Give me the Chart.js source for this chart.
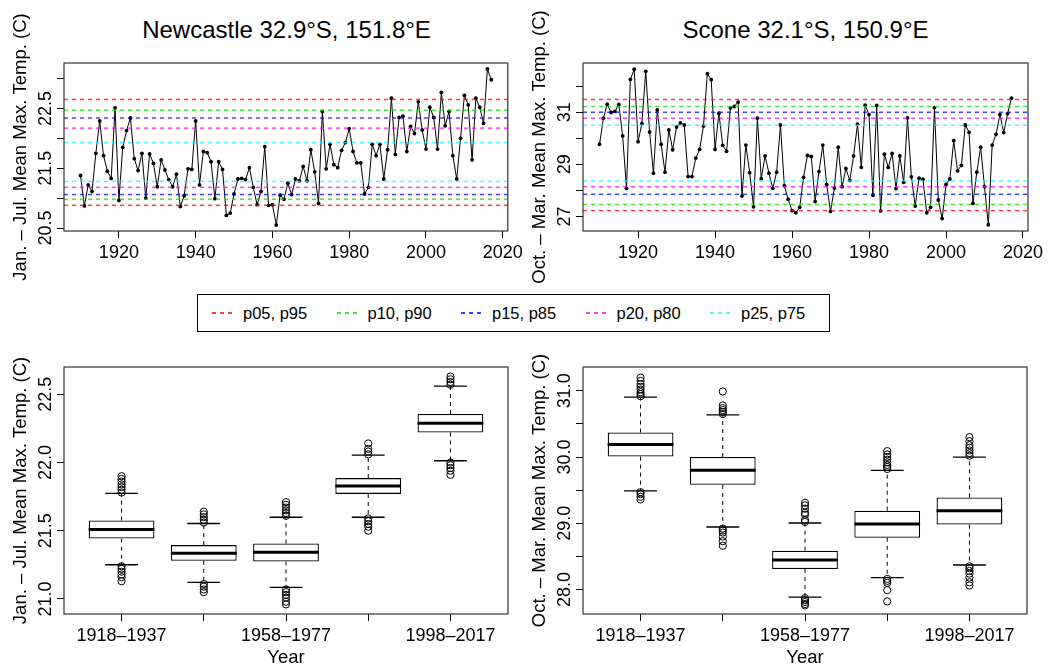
<!DOCTYPE html>
<html>
<head>
<meta charset="utf-8">
<script src="https://cdn.jsdelivr.net/npm/chart.js@4.4.1/dist/chart.umd.min.js"></script>
<style>
  body { margin: 0; background: #fff; width: 1055px; height: 670px; position: relative; overflow: hidden;
         font-family: "Liberation Sans", Arial, sans-serif; color: #000; }
  canvas { position: absolute; }
  .title { position: absolute; top: 16px; font-size: 24px; line-height: 28px; text-align: center; }
  #legend { position: absolute; left: 197px; top: 294px; width: 633px; height: 38px; border: 1px solid #000; box-sizing: border-box; }
  .dash { position: absolute; top: 17px; width: 22px; height: 1.5px; }
  .ltxt { position: absolute; top: 0; line-height: 36px; font-size: 16.5px; white-space: nowrap; }
</style>
</head>
<body>
<div class="title" style="left:64px;width:445px">Newcastle 32.9°S, 151.8°E</div>
<div class="title" style="left:583px;width:445px">Scone 32.1°S, 150.9°E</div>
<canvas id="newcastle_series" width="527" height="290" style="left:0;top:0"></canvas>
<canvas id="scone_series" width="528" height="290" style="left:527px;top:0"></canvas>
<div id="legend"></div>
<canvas id="newcastle_box" width="527" height="330" style="left:0;top:340px"></canvas>
<canvas id="scone_box" width="528" height="330" style="left:527px;top:340px"></canvas>

<script>
// ANNUAL SERIES, 1910 - 2017
const firstYear = 1910;
const newcastle = [21.38, 20.87, 21.22, 21.11, 21.75, 22.29, 21.71, 21.45, 21.33, 22.51,
  20.96, 21.85, 22.13, 22.34, 21.66, 21.46, 21.75, 21.00, 21.74, 21.58,
  21.19, 21.64, 21.47, 21.31, 21.19, 21.40, 20.86, 21.04, 21.49, 21.48,
  22.29, 21.22, 21.78, 21.76, 21.61, 20.99, 21.61, 21.48, 20.71, 20.75,
  21.07, 21.32, 21.33, 21.31, 21.51, 21.18, 20.89, 21.11, 21.86, 20.88,
  20.89, 20.55, 21.05, 20.98, 21.25, 21.06, 21.32, 21.29, 21.53, 21.29,
  21.81, 21.44, 20.91, 22.45, 21.49, 21.90, 21.56, 21.51, 21.80, 21.93,
  22.16, 21.78, 21.59, 21.59, 21.07, 21.18, 21.90, 21.71, 21.90, 21.32,
  21.81, 22.67, 21.73, 22.35, 22.37, 21.78, 22.20, 22.08, 22.61, 22.14,
  21.82, 22.52, 22.35, 21.82, 22.77, 22.21, 22.45, 21.71, 21.32, 22.00,
  22.72, 22.56, 21.64, 22.67, 22.52, 22.25, 23.16, 22.98];
const scone = [29.77, 30.77, 31.31, 30.99, 31.03, 31.30, 30.09, 28.08, 32.26, 32.65,
  29.87, 30.56, 32.57, 30.24, 28.66, 31.09, 29.77, 28.70, 30.32, 29.56,
  30.43, 30.59, 30.51, 28.53, 28.53, 29.24, 29.57, 30.47, 32.48, 32.25,
  29.57, 30.96, 29.73, 29.50, 31.17, 31.22, 31.39, 27.78, 29.74, 28.68,
  27.37, 30.77, 28.45, 29.32, 28.66, 28.08, 28.70, 30.51, 28.18, 27.66,
  27.22, 27.14, 27.35, 28.50, 29.34, 29.30, 27.57, 28.72, 29.74, 28.23,
  27.19, 28.09, 29.66, 28.14, 28.84, 28.38, 29.32, 30.54, 28.88, 31.27,
  30.91, 27.81, 31.26, 27.21, 29.39, 28.88, 29.42, 28.07, 29.32, 28.31,
  30.78, 28.52, 27.40, 28.47, 28.43, 27.14, 27.35, 31.18, 27.63, 26.92,
  28.23, 28.44, 29.91, 28.75, 28.96, 30.51, 30.23, 27.50, 28.70, 29.66,
  28.14, 26.68, 29.74, 30.15, 30.91, 30.22, 30.95, 31.54];
const years = newcastle.map((v, i) => firstYear + i);

// PERCENTILE LEVELS (low / high pair for each legend entry)
const pctLabels = ['p05, p95', 'p10, p90', 'p15, p85', 'p20, p80', 'p25, p75'];
const newcastleLow  = [20.88, 20.98, 21.06, 21.18, 21.28];
const newcastleHigh = [22.65, 22.47, 22.34, 22.17, 21.93];
const sconeLow  = [27.22, 27.46, 27.85, 28.14, 28.36];
const sconeHigh = [31.49, 31.22, 31.00, 30.77, 30.50];

// TICKS
const yearTicks = [1920, 1940, 1960, 1980, 2000, 2020];
const yearTickLabels = ['1920', '1940', '1960', '1980', '2000', '2020'];
const newcastleTicks = [20.5, 21, 21.5, 22, 22.5, 23];
const newcastleTickLabels = ['20.5', '', '21.5', '', '22.5', ''];
const sconeTicks = [27, 28, 29, 30, 31, 32];
const sconeTickLabels = ['27', '', '29', '', '31', ''];

// 20-YEAR PERIOD BOXPLOTS
const periods = ['1918–1937', '1938–1957', '1958–1977', '1978–1997', '1998–2017'];
const periodPos = [1, 2, 3, 4, 5];
const ncLo  = [21.251, 21.122, 21.085, 21.599, 22.013];
const ncQ1  = [21.443, 21.280, 21.275, 21.770, 22.220];
const ncMed = [21.509, 21.336, 21.343, 21.828, 22.288];
const ncQ3  = [21.575, 21.395, 21.407, 21.886, 22.356];
const ncHi  = [21.774, 21.553, 21.599, 22.054, 22.560];
const ncOut = [
  [21.78, 21.80, 21.82, 21.84, 21.86, 21.88, 21.90, 21.24, 21.22, 21.20, 21.18, 21.16, 21.13],
  [21.56, 21.58, 21.60, 21.62, 21.64, 21.11, 21.09, 21.07, 21.05],
  [21.61, 21.63, 21.65, 21.67, 21.69, 21.71, 21.07, 21.05, 21.03, 21.01, 20.98, 20.96],
  [22.06, 22.08, 22.10, 22.14, 21.59, 21.57, 21.55, 21.53, 21.50],
  [22.57, 22.59, 22.61, 22.63, 22.00, 21.98, 21.96, 21.94, 21.91]];
const ncBoxTicks = [21, 21.5, 22, 22.5];
const ncBoxTickLabels = ['21.0', '21.5', '22.0', '22.5'];

const scLo  = [29.488, 28.944, 27.885, 28.180, 28.370];
const scQ1  = [30.007, 29.580, 28.310, 28.782, 28.980];
const scMed = [30.190, 29.800, 28.445, 28.989, 29.190];
const scQ3  = [30.370, 30.000, 28.586, 29.190, 29.390];
const scHi  = [30.904, 30.637, 29.004, 29.800, 30.000];
const scOut = [
  [30.92, 30.95, 30.98, 31.02, 31.06, 31.10, 31.15, 31.20, 29.47, 29.44, 29.40, 29.36],
  [30.65, 30.68, 30.71, 30.74, 30.78, 30.99, 28.92, 28.89, 28.86, 28.80, 28.73, 28.66],
  [29.02, 29.05, 29.13, 29.16, 29.22, 29.27, 29.31, 27.87, 27.84, 27.81, 27.78, 27.76],
  [29.82, 29.85, 29.88, 29.92, 29.96, 30.00, 30.04, 30.09, 28.16, 28.13, 28.10, 27.99, 27.82],
  [30.02, 30.06, 30.10, 30.14, 30.18, 30.24, 30.30, 28.35, 28.32, 28.28, 28.24, 28.18, 28.11, 28.06]];
const scBoxTicks = [28, 28.5, 29, 29.5, 30, 30.5, 31];
const scBoxTickLabels = ['28.0', '', '29.0', '', '30.0', '', '31.0'];

const pctColors = ['rgba(255,0,0,0.75)', 'rgba(0,230,0,0.75)', 'rgba(0,0,255,0.75)', 'rgba(255,0,255,0.75)', 'rgba(0,255,255,0.75)'];
const janJul = 'Jan. – Jul. Mean Max. Temp. (C)';
const octMar = 'Oct. – Mar. Mean Max. Temp. (C)';

Chart.defaults.font.family = '"Liberation Sans", Arial, sans-serif';
Chart.defaults.font.size = 18;
Chart.defaults.color = '#000';

// LEGEND
const legend = document.getElementById('legend');
pctLabels.forEach((txt, i) => {
  const d = document.createElement('div');
  d.className = 'dash';
  d.style.left = (14 + i * 124.5) + 'px';
  d.style.background = `repeating-linear-gradient(90deg, ${pctColors[i]} 0 4px, transparent 4px 8px)`;
  legend.appendChild(d);
  const t = document.createElement('div');
  t.className = 'ltxt';
  t.style.left = (45 + i * 124.5) + 'px';
  t.textContent = txt;
  legend.appendChild(t);
});

// PLUGINS
const boxFrame = {
  id: 'boxFrame',
  afterDraw(chart) {
    const {ctx, chartArea: a} = chart;
    ctx.save();
    ctx.strokeStyle = '#333';
    ctx.lineWidth = 1.2;
    ctx.strokeRect(a.left, a.top, a.right - a.left, a.bottom - a.top);
    ctx.restore();
  }
};

const pctLines = {
  id: 'pctLines',
  afterDatasetsDraw(chart, args, opts) {
    if (!opts.low) return;
    const {ctx, chartArea: a, scales: {y}} = chart;
    ctx.save();
    ctx.setLineDash([4, 4]);
    ctx.lineWidth = 1.5;
    opts.low.forEach((lo, i) => {
      ctx.strokeStyle = pctColors[i];
      [lo, opts.high[i]].forEach(v => {
        const py = y.getPixelForValue(v);
        ctx.beginPath();
        ctx.moveTo(a.left, py);
        ctx.lineTo(a.right, py);
        ctx.stroke();
      });
    });
    ctx.restore();
  }
};

const boxParts = {
  id: 'boxParts',
  afterDatasetsDraw(chart, args, opts) {
    if (!opts.med) return;
    const {ctx, scales: {x, y}} = chart;
    const bars = chart.getDatasetMeta(0).data;
    ctx.save();
    ctx.strokeStyle = '#000';
    opts.med.forEach((m, i) => {
      const px = x.getPixelForValue(periodPos[i]);
      const half = bars[i].width / 2;
      ctx.lineWidth = 1;
      ctx.setLineDash([4, 4]);
      ctx.beginPath();
      ctx.moveTo(px, y.getPixelForValue(opts.q3[i]));
      ctx.lineTo(px, y.getPixelForValue(opts.hi[i]));
      ctx.moveTo(px, y.getPixelForValue(opts.q1[i]));
      ctx.lineTo(px, y.getPixelForValue(opts.lo[i]));
      ctx.stroke();
      ctx.setLineDash([]);
      ctx.lineWidth = 1.3;
      ctx.beginPath();
      [opts.hi[i], opts.lo[i]].forEach(v => {
        const py = y.getPixelForValue(v);
        ctx.moveTo(px - half / 2, py);
        ctx.lineTo(px + half / 2, py);
      });
      ctx.stroke();
      ctx.lineWidth = 3;
      const pm = y.getPixelForValue(m);
      ctx.beginPath();
      ctx.moveTo(px - half, pm);
      ctx.lineTo(px + half, pm);
      ctx.stroke();
    });
    ctx.restore();
  }
};

// SCALE HELPERS
function yScale(o) {
  return {
    min: o.min, max: o.max,
    afterBuildTicks: s => { s.ticks = o.ticks.map(v => ({value: v})); },
    afterFit: s => { s.width = o.width; },
    border: {display: false},
    grid: {drawOnChartArea: false, tickLength: 7, tickColor: '#000'},
    ticks: {autoSkip: false, minRotation: 90, maxRotation: 90, crossAlign: 'center', padding: o.pad,
            callback: (v, i) => o.labels[i]},
    title: {display: true, text: o.title, font: {size: 18.5}, padding: {top: o.titlePad, bottom: 0}}
  };
}
function xScale(o) {
  return {
    type: 'linear', min: o.min, max: o.max, offset: false,
    afterBuildTicks: s => { s.ticks = o.ticks.map(v => ({value: v})); },
    afterFit: s => { s.height = o.height; },
    border: {display: false},
    grid: {drawOnChartArea: false, offset: false, tickLength: 7, tickColor: '#000'},
    ticks: {autoSkip: false, maxRotation: 0, padding: 4, callback: (v, i) => o.labels[i]},
    title: {display: !!o.title, text: o.title, font: {size: 18.5}, padding: {top: 0, bottom: 1}}
  };
}

// TIME SERIES PANELS
function seriesChart(id, values, low, high, y, padding) {
  return new Chart(document.getElementById(id), {
    type: 'line',
    data: {
      datasets: [{
        data: values.map((v, i) => ({x: years[i], y: v})),
        borderColor: '#000', backgroundColor: '#000', borderWidth: 1,
        pointRadius: 1.9, pointBorderWidth: 0, tension: 0
      }]
    },
    options: {
      responsive: false, animation: false, devicePixelRatio: 1,
      layout: {padding},
      plugins: {legend: {display: false}, tooltip: {enabled: false}, pctLines: {low, high}},
      scales: {
        x: xScale({min: 1905.7, max: 2021.3, ticks: yearTicks, labels: yearTickLabels, height: 59}),
        y: yScale(y)
      }
    },
    plugins: [pctLines, boxFrame]
  });
}

seriesChart('newcastle_series', newcastle, newcastleLow, newcastleHigh,
  {min: 20.45, max: 23.26, ticks: newcastleTicks, labels: newcastleTickLabels, width: 64, pad: -7, title: janJul, titlePad: 10},
  {top: 63, right: 18, bottom: 0, left: 0});
seriesChart('scone_series', scone, sconeLow, sconeHigh,
  {min: 26.44, max: 32.89, ticks: sconeTicks, labels: sconeTickLabels, width: 56, pad: 1, title: octMar, titlePad: 2},
  {top: 63, right: 27, bottom: 0, left: 0});

// BOXPLOT PANELS
function boxChart(id, b, y, padding) {
  return new Chart(document.getElementById(id), {
    type: 'bar',
    data: {
      datasets: [{
        type: 'bar',
        data: periodPos.map((p, i) => ({x: p, y: [b.q1[i], b.q3[i]]})),
        backgroundColor: '#fff', borderColor: '#000', borderWidth: 1.3, borderSkipped: false,
        categoryPercentage: 0.8, barPercentage: 1
      }, {
        type: 'scatter',
        data: b.out.flatMap((g, i) => g.map(v => ({x: periodPos[i], y: v}))),
        pointRadius: 3.6, pointBorderWidth: 1, borderColor: '#000', backgroundColor: 'rgba(0,0,0,0)'
      }]
    },
    options: {
      responsive: false, animation: false, devicePixelRatio: 1,
      layout: {padding},
      plugins: {legend: {display: false}, tooltip: {enabled: false}, boxParts: b},
      scales: {
        x: xScale({min: 0.3, max: 5.7, ticks: periodPos, labels: periods.map((p, i) => i % 2 ? '' : p), height: 56, title: 'Year'}),
        y: yScale(y)
      }
    },
    plugins: [boxParts, boxFrame]
  });
}

boxChart('newcastle_box', {lo: ncLo, q1: ncQ1, med: ncMed, q3: ncQ3, hi: ncHi, out: ncOut},
  {min: 20.89, max: 22.70, ticks: ncBoxTicks, labels: ncBoxTickLabels, width: 64, pad: -7, title: janJul, titlePad: 10},
  {top: 27, right: 19, bottom: 0, left: 0});
boxChart('scone_box', {lo: scLo, q1: scQ1, med: scMed, q3: scQ3, hi: scHi, out: scOut},
  {min: 27.63, max: 31.36, ticks: scBoxTicks, labels: scBoxTickLabels, width: 56, pad: -7, title: octMar, titlePad: 2},
  {top: 27, right: 28, bottom: 0, left: 0});
</script>
</body>
</html>
